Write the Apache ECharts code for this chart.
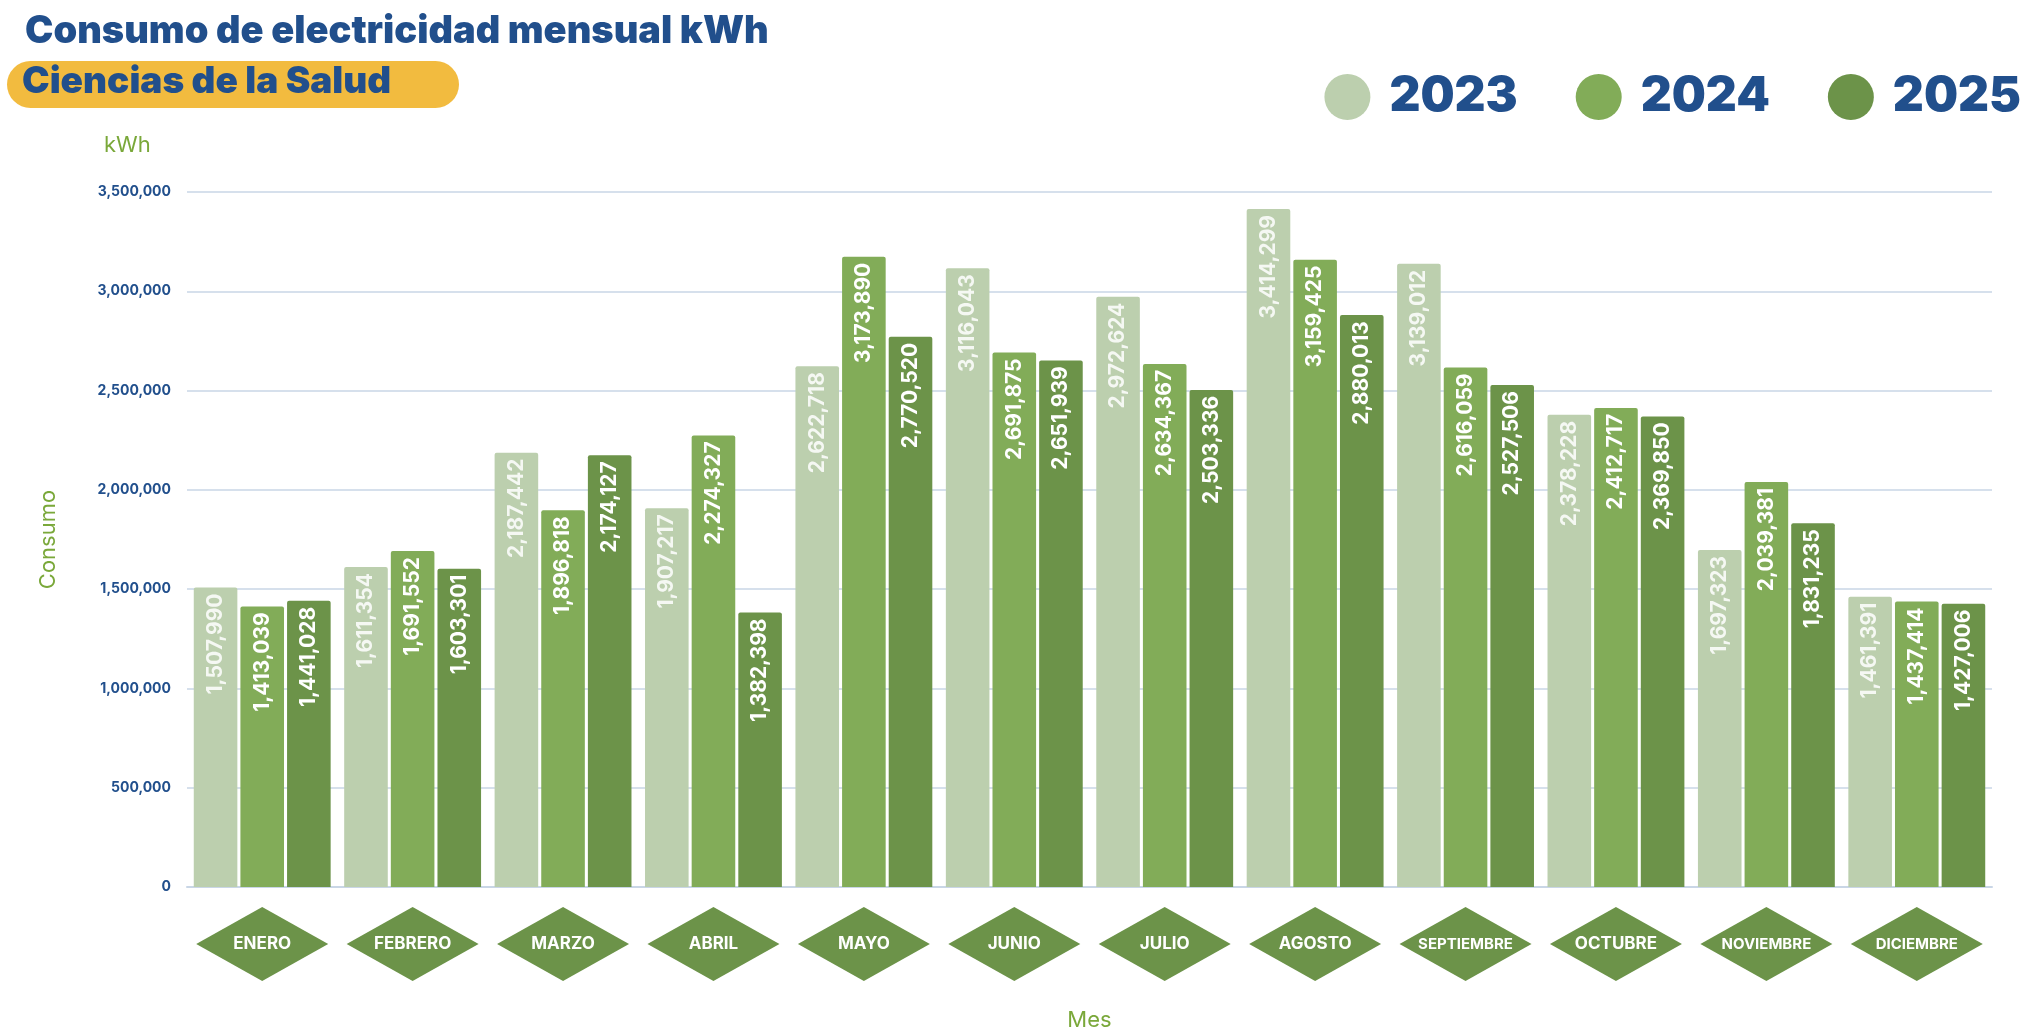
<!DOCTYPE html>
<html>
<head>
<meta charset="utf-8">
<script src="https://cdn.jsdelivr.net/npm/echarts@6/dist/echarts.min.js"></script>
<style>
html,body{margin:0;padding:0;background:#fff;}
#main{width:2040px;height:1036px;}
</style>
</head>
<body>
<div id="main"></div>
<script>
"use strict";
// datos
var meses = ['ENERO','FEBRERO','MARZO','ABRIL','MAYO','JUNIO','JULIO','AGOSTO','SEPTIEMBRE','OCTUBRE','NOVIEMBRE','DICIEMBRE'];
var anios = ['2023','2024','2025'];
var v2023 = [1507990,1611354,2187442,1907217,2622718,3116043,2972624,3414299,3139012,2378228,1697323,1461391];
var v2024 = [1413039,1691552,1896818,2274327,3173890,2691875,2634367,3159425,2616059,2412717,2039381,1437414];
var v2025 = [1441028,1603301,2174127,1382398,2770520,2651939,2503336,2880013,2527506,2369850,1831235,1427006];
var colores = ['#bccfae','#82ac58','#6c9349'];

var myChart = echarts.init(document.getElementById('main'));
var azul = '#214f8c';
var fuente = 'Inter, "Open Sans", sans-serif';

function serie(nombre, datos, color, labelColor) {
    return {
        name: nombre,
        type: 'bar',
        data: datos,
        itemStyle: {color: color, borderRadius: [2, 2, 0, 0]},
        barGap: '7%',
        barCategoryGap: '9%',
        label: {
            show: true,
            position: 'insideTop',
            rotate: 90,
            align: 'right',
            verticalAlign: 'middle',
            offset: [0, 0],
            distance: 6,
            color: labelColor,
            fontFamily: fuente,
            fontWeight: 'bold',
            fontSize: 21,
            formatter: function (p) { return p.value.toLocaleString('en-US'); }
        }
    };
}

var option = {
    animation: false,
    title: {
        text: 'Consumo de electricidad mensual kWh',
        left: 20, top: 8,
        textStyle: {color: azul, fontSize: 38, fontWeight: 900, fontFamily: fuente}
    },
    legend: {
        data: anios,
        right: 14, top: 68,
        icon: 'circle',
        itemWidth: 46, itemHeight: 46,
        itemGap: 58,
        textStyle: {color: azul, fontSize: 48, fontWeight: 900, fontFamily: fuente, padding: [0, 0, 0, 14]}
    },
    grid: {left: 187, right: 48, top: 192, bottom: 149},
    xAxis: {
        type: 'category',
        data: meses,
        name: 'Mes',
        nameLocation: 'middle',
        nameGap: 122,
        nameTextStyle: {color: '#7aa83a', fontSize: 22, fontFamily: fuente},
        axisLine: {lineStyle: {color: '#c9d6e6', width: 2}},
        axisTick: {show: false},
        axisLabel: {show: false}
    },
    yAxis: {
        type: 'value',
        min: 0, max: 3500000, interval: 500000,
        name: 'Consumo',
        nameLocation: 'middle',
        nameGap: 128,
        nameTextStyle: {color: '#7aa83a', fontSize: 22, fontFamily: fuente},
        axisLabel: {
            color: azul, fontWeight: 'bold', fontSize: 14, fontFamily: fuente, margin: 16,
            formatter: function (v) { return v.toLocaleString('en-US'); }
        },
        splitLine: {lineStyle: {color: '#c9d6e6', width: 1.5}}
    },
    series: [
        serie(anios[0], v2023, colores[0], 'rgba(255,255,255,0.85)'),
        serie(anios[1], v2024, colores[1], '#ffffff'),
        serie(anios[2], v2025, colores[2], '#ffffff')
    ]
};
myChart.setOption(option);

// etiquetas tipo rombo + textos sueltos
var graficos = [
    {type: 'rect', shape: {x: 7, y: 61, width: 452, height: 47, r: 24}, style: {fill: '#f2bb3f'}, z: 1},
    {type: 'text', left: 22, top: 63, z: 2,
        style: {text: 'Ciencias de la Salud', fill: azul, font: '900 37px ' + fuente}},
    {type: 'text', left: 104, top: 134,
        style: {text: 'kWh', fill: '#7aa83a', font: '22px ' + fuente}}
];
meses.forEach(function (m) {
    var cx = myChart.convertToPixel({xAxisIndex: 0}, m);
    var cy = 944;
    graficos.push({
        type: 'polygon',
        shape: {points: [[cx - 66, cy], [cx, cy - 37], [cx + 66, cy], [cx, cy + 37]]},
        style: {fill: '#6c9349'}
    });
    graficos.push({
        type: 'text', x: cx, y: cy, z: 3,
        style: {text: m, fill: '#fff', font: 'bold ' + (m.length > 8 ? 15 : 17) + 'px ' + fuente,
            align: 'center', verticalAlign: 'middle'}
    });
});
myChart.setOption({graphic: graficos});
</script>
</body>
</html>
